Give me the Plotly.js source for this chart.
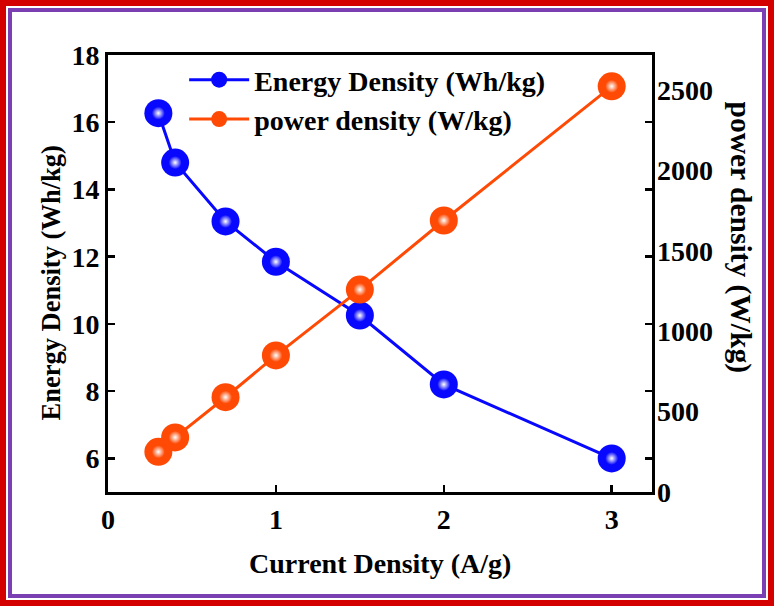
<!DOCTYPE html>
<html>
<head>
<meta charset="utf-8">
<script src="https://cdn.plot.ly/plotly-3.0.1.min.js"></script>
<style>
html,body{margin:0;padding:0;background:#fff;}
#outer{width:774px;height:606px;box-sizing:border-box;border:6px solid #d40000;padding:2px;}
#inner{width:100%;height:100%;box-sizing:border-box;border:4px solid #7a3fb3;}
#chart{width:750px;height:582px;}
</style>
</head>
<body>
<div id="outer"><div id="inner"><div id="chart"></div></div></div>
<script>
var currentDensity = [0.3, 0.4, 0.7, 1, 1.5, 2, 3];
var energyDensity = [16.27, 14.8, 13.05, 11.85, 10.25, 8.2, 6.0];
var powerDensity = [250, 340, 590, 850, 1260, 1690, 2525];
var leftTicks = [6, 8, 10, 12, 14, 16, 18];
var rightTicks = [0, 500, 1000, 1500, 2000, 2500];
var xTicks = [0, 1, 2, 3];

var fontFam = '"Liberation Serif", "Times New Roman", serif';
var tickFont = {family: fontFam, size: 28, color: '#000', weight: 'bold'};
var titleFont = {family: fontFam, size: 28, color: '#000', weight: 'bold'};

var blue = '#0808ff', orange = '#ff4a05';

var traces = [
  {
    x: currentDensity, y: energyDensity, name: 'Energy Density (Wh/kg)',
    type: 'scatter', mode: 'lines+markers', yaxis: 'y',
    line: {color: blue, width: 3},
    marker: {size: 28, color: blue, line: {width: 0}}
  },
  {
    x: currentDensity, y: energyDensity, showlegend: false, hoverinfo: 'skip',
    type: 'scatter', mode: 'markers', yaxis: 'y',
    marker: {size: 13, color: blue, gradient: {type: 'radial', color: '#ffffff'}, line: {width: 0}}
  },
  {
    x: currentDensity, y: powerDensity, name: 'power density (W/kg)',
    type: 'scatter', mode: 'lines+markers', yaxis: 'y2',
    line: {color: orange, width: 3},
    marker: {size: 28, color: orange, line: {width: 0}}
  },
  {
    x: currentDensity, y: powerDensity, showlegend: false, hoverinfo: 'skip',
    type: 'scatter', mode: 'markers', yaxis: 'y2',
    marker: {size: 13, color: orange, gradient: {type: 'radial', color: '#ffffff'}, line: {width: 0}}
  }
];

var layout = {
  width: 750, height: 582,
  margin: {l: 96, r: 110, t: 43, b: 102},
  paper_bgcolor: '#fff', plot_bgcolor: '#fff',
  showlegend: true,
  legend: {x: 0.14, y: 1.0, xanchor: 'left', yanchor: 'top', bgcolor: 'rgba(0,0,0,0)',
           font: titleFont, tracegroupgap: 0, itemwidth: 60},
  xaxis: {
    range: [0, 3.24], tickvals: xTicks, ticktext: xTicks.map(String),
    showgrid: false, zeroline: false, showline: true, linecolor: '#000', linewidth: 3,
    mirror: true, ticks: 'inside', ticklen: 7, tickwidth: 2.5, tickcolor: '#000',
    tickfont: tickFont, ticklabelstandoff: 0
  },
  yaxis: {
    range: [5, 18], tickvals: leftTicks, ticktext: leftTicks.map(String),
    showgrid: false, zeroline: false, showline: true, linecolor: '#000', linewidth: 3,
    mirror: 'ticks', ticks: 'inside', ticklen: 7, tickwidth: 2.5, tickcolor: '#000',
    tickfont: tickFont
  },
  yaxis2: {
    overlaying: 'y', side: 'right', range: [0, 2720],
    tickvals: rightTicks, ticktext: rightTicks.map(String),
    showgrid: false, zeroline: false, showline: false, ticks: '',
    tickfont: tickFont, ticklabelstandoff: 4
  },
  annotations: [
    {text: 'Current Density (A/g)', xref: 'paper', yref: 'paper', x: 0.5, y: 0, yshift: -71,
     xanchor: 'center', yanchor: 'middle', showarrow: false, font: titleFont},
    {text: 'Energy Density (Wh/kg)', xref: 'paper', yref: 'paper', x: 0, y: 0.5, xshift: -58, yshift: -10,
     xanchor: 'center', yanchor: 'middle', showarrow: false, textangle: -90,
     font: {family: fontFam, size: 26.5, color: '#000', weight: 'bold'}},
    {text: 'power density (W/kg)', xref: 'paper', yref: 'paper', x: 1, y: 0.5, xshift: 88, yshift: 36,
     xanchor: 'center', yanchor: 'middle', showarrow: false, textangle: 90,
     font: {family: fontFam, size: 29.5, color: '#000', weight: 'bold'}}
  ]
};

Plotly.newPlot('chart', traces, layout, {displayModeBar: false, staticPlot: true});
</script>
</body>
</html>
